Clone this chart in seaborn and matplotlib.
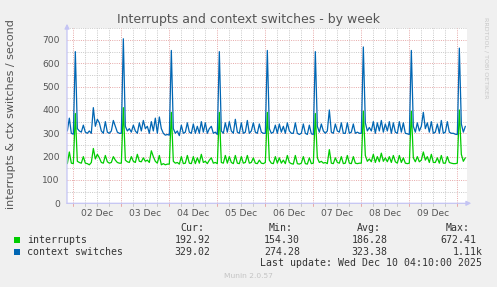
import numpy as np
import pandas as pd
import matplotlib
matplotlib.use("Agg")
import matplotlib.pyplot as plt
import matplotlib.transforms as mtransforms
from matplotlib.patches import Rectangle, FancyArrowPatch
import seaborn as sns

# ---------------- data (hourly) ----------------
ctx_pre = [310, 365, 300]
int_pre = [170, 220, 172]

ctx_dec02 = [296, 650, 320, 310, 305, 335, 305, 300, 310, 300, 410, 330, 360, 345, 310, 300, 350, 305, 300, 310, 355, 330, 305, 300]
int_dec02 = [170, 385, 180, 175, 172, 200, 172, 170, 165, 175, 235, 190, 210, 195, 175, 172, 205, 178, 172, 175, 200, 185, 175, 172]
ctx_dec03 = [300, 705, 330, 310, 320, 305, 335, 310, 300, 345, 310, 355, 320, 330, 300, 350, 310, 365, 300, 370, 320, 300, 292, 295]
int_dec03 = [172, 410, 185, 178, 175, 200, 180, 175, 210, 180, 178, 195, 180, 185, 175, 225, 200, 180, 172, 205, 165, 170, 165, 168]
ctx_dec04 = [292, 655, 320, 300, 310, 290, 335, 300, 305, 345, 305, 300, 340, 300, 330, 300, 350, 305, 345, 300, 320, 330, 300, 305]
int_dec04 = [168, 390, 180, 172, 175, 168, 200, 170, 172, 205, 172, 170, 200, 170, 195, 172, 210, 175, 180, 170, 185, 195, 172, 175]
ctx_dec05 = [295, 650, 310, 300, 345, 305, 350, 310, 300, 360, 305, 300, 345, 300, 305, 355, 300, 310, 345, 305, 300, 340, 305, 300]
int_dec05 = [170, 390, 175, 172, 205, 172, 200, 175, 170, 205, 172, 170, 200, 172, 175, 205, 172, 175, 195, 172, 170, 185, 172, 170]
ctx_dec06 = [300, 655, 320, 300, 305, 335, 300, 340, 305, 330, 300, 345, 310, 300, 300, 345, 300, 295, 300, 340, 300, 295, 335, 298]
int_dec06 = [175, 390, 185, 172, 170, 200, 172, 195, 172, 185, 170, 205, 175, 170, 168, 205, 170, 168, 172, 200, 170, 168, 195, 170]
ctx_dec07 = [295, 650, 330, 305, 340, 310, 300, 310, 400, 305, 300, 340, 310, 305, 345, 300, 300, 345, 300, 305, 340, 300, 305, 300]
int_dec07 = [172, 385, 195, 175, 180, 172, 175, 170, 230, 172, 170, 195, 175, 172, 200, 170, 172, 205, 172, 170, 200, 172, 170, 172]
ctx_dec08 = [300, 670, 345, 310, 325, 310, 350, 300, 345, 310, 355, 305, 340, 310, 350, 300, 345, 305, 300, 350, 305, 345, 300, 298]
int_dec08 = [172, 395, 205, 180, 190, 178, 210, 175, 200, 178, 215, 180, 195, 178, 200, 175, 205, 178, 172, 205, 175, 195, 172, 170]
ctx_dec09 = [295, 655, 330, 305, 345, 310, 330, 390, 320, 345, 305, 350, 300, 305, 340, 300, 355, 300, 305, 350, 305, 300, 300, 296]
int_dec09 = [172, 395, 195, 178, 200, 178, 185, 220, 185, 200, 175, 210, 175, 175, 195, 172, 205, 172, 172, 200, 175, 172, 170, 170]
ctx_dec10 = [295, 665, 340, 305, 330]
int_dec10 = [172, 400, 210, 180, 195]

series_names = ["interrupts", "context switches"]
series_colors = ["#00CC00", "#0066B3"]

legend_headers = ["Cur:", "Min:", "Avg:", "Max:"]
legend_cur = ["192.92", "329.02"]
legend_min = ["154.30", "274.28"]
legend_avg = ["186.28", "323.38"]
legend_max = ["672.41", "1.11k"]

y_ticks = [0, 100, 200, 300, 400, 500, 600, 700]
day_labels = ["02 Dec", "03 Dec", "04 Dec", "05 Dec", "06 Dec", "07 Dec", "08 Dec", "09 Dec"]

title_text = "Interrupts and context switches - by week"
ylabel_text = "interrupts & ctx switches / second"
last_update = "Last update: Wed Dec 10 04:10:00 2025"
footer_text = "Munin 2.0.57"
side_text = "RRDTOOL / TOBI OETIKER"

ctx_values = (ctx_pre + ctx_dec02 + ctx_dec03 + ctx_dec04 + ctx_dec05 + ctx_dec06
              + ctx_dec07 + ctx_dec08 + ctx_dec09 + ctx_dec10)
int_values = (int_pre + int_dec02 + int_dec03 + int_dec04 + int_dec05 + int_dec06
              + int_dec07 + int_dec08 + int_dec09 + int_dec10)
times = pd.date_range("2025-12-01 21:00", periods=len(ctx_values), freq="h")

df = pd.DataFrame({"time": times, "interrupts": int_values, "context switches": ctx_values})
long = df.melt(id_vars="time", var_name="series", value_name="value")

# ---------------- figure ----------------
sns.set_style("white")
plt.rcParams["font.family"] = ["DejaVu Sans"]

W, H = 497, 287
BG = "#F0F0F0"
fig = plt.figure(figsize=(W / 100, H / 100), dpi=100, facecolor=BG)

def fx(px):
    return px / W

def fy(py):
    return 1 - py / H

ax_left, ax_right, ax_top, ax_bottom = 67, 467, 28.3, 203.3
ax = fig.add_axes([fx(ax_left), fy(ax_bottom), (ax_right - ax_left) / W, (ax_bottom - ax_top) / H])
ax.set_facecolor("white")

x0 = pd.Timestamp("2025-12-01 20:50")
x1 = pd.Timestamp("2025-12-10 04:50")
ax.set_xlim(x0, x1)
ax.set_ylim(0, 750)

# grid
major_c = "#E6A8A8"
minor_c = "#C8C8C8"
dots = (0, (1, 1.3))
for yv in np.arange(50, 751, 50):
    ax.axhline(yv, color=major_c if yv % 100 == 0 else minor_c, lw=0.7, ls=dots, zorder=0)
grid_times = pd.date_range("2025-12-01 00:00", "2025-12-10 06:00", freq="6h")
for t in grid_times:
    if t < x0 or t > x1:
        continue
    ax.axvline(t, color=major_c if t.hour == 0 else minor_c, lw=0.7, ls=dots, zorder=0)
    # small tick below axis
    trans = mtransforms.blended_transform_factory(ax.transData, ax.transAxes)
    ax.plot([t, t], [0, -2.5 / 175], transform=trans, clip_on=False,
            color=major_c if t.hour == 0 else minor_c, lw=0.7, zorder=1)

sns.lineplot(data=long, x="time", y="value", hue="series", hue_order=series_names,
             palette=dict(zip(series_names, series_colors)), legend=False,
             lw=0.9, ax=ax, zorder=3)

for s in ax.spines.values():
    s.set_visible(False)

ax.set_xlabel("")
ax.set_ylabel("")
ax.set_yticks(y_ticks)
ax.set_yticklabels([str(v) for v in y_ticks])
label_times = pd.date_range("2025-12-02 12:00", periods=len(day_labels), freq="D")
ax.set_xticks(label_times)
ax.set_xticklabels(day_labels)
ax.tick_params(axis="both", length=0, labelsize=6.6, labelcolor="#555555")
ax.tick_params(axis="y", pad=5.2)
ax.tick_params(axis="x", pad=4.0)

# axes lines with arrows
axis_c = "#C4C4F4"
fig.add_artist(FancyArrowPatch((fx(64), fy(ax_bottom)), (fx(474), fy(ax_bottom)),
                               transform=fig.transFigure, arrowstyle="-|>", mutation_scale=7,
                               lw=0.9, color=axis_c, zorder=5))
fig.add_artist(FancyArrowPatch((fx(ax_left), fy(206)), (fx(ax_left), fy(21)),
                               transform=fig.transFigure, arrowstyle="-|>", mutation_scale=7,
                               lw=0.9, color=axis_c, zorder=5))

# titles
fig.text(fx(248.5), fy(19), title_text, ha="center", va="center", fontsize=9, color="#555555")
fig.text(fx(11), fy(114), ylabel_text, ha="center", va="center", rotation=90,
         fontsize=8, color="#555555")
fig.text(fx(486), fy(58), side_text, ha="center", va="center", rotation=270,
         fontsize=4.6, color="#C8C8C8")

# legend
mono = "DejaVu Sans Mono"
lf = 7.1
lc = "#333333"
hdr_y = 228.3
row_y = [240.0, 251.7]
hdr_right = [204, 293, 381, 470]
val_right = [210.7, 300, 387.7, 476.7]
for h, xr in zip(legend_headers, hdr_right):
    fig.text(fx(xr), fy(hdr_y), h, ha="right", va="center", family=mono, fontsize=lf, color=lc)
cols = [legend_cur, legend_min, legend_avg, legend_max]
for i, (name, col, yy) in enumerate(zip(series_names, series_colors, row_y)):
    fig.add_artist(Rectangle((fx(14), fy(yy + 3)), 6 / W, 6 / H, transform=fig.transFigure,
                             facecolor=col, edgecolor="none"))
    fig.text(fx(26.7), fy(yy), name, ha="left", va="center", family=mono, fontsize=lf, color=lc)
    for j, (vals, xr) in enumerate(zip(cols, val_right)):
        v = vals[i]
        xr_use = xr
        if j == 3 and v.endswith("k"):
            xr_use = 482.7
        fig.text(fx(xr_use), fy(yy), v, ha="right", va="center", family=mono, fontsize=lf, color=lc)
fig.text(fx(482.3), fy(263.3), last_update, ha="right", va="center", family=mono,
         fontsize=lf, color=lc)
fig.text(fx(248), fy(276), footer_text, ha="center", va="center", fontsize=5.4, color="#C4C4C4")

fig.savefig("out.png", dpi=100, facecolor=BG)
